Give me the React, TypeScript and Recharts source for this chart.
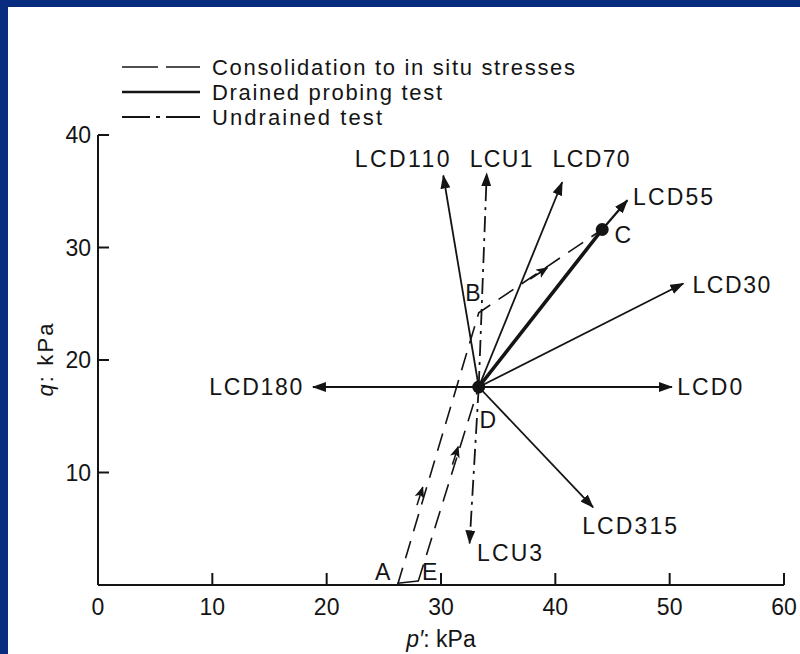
import React from 'react';
import { LineChart, Line, XAxis, YAxis, ReferenceDot, Legend } from 'recharts';

const INK = '#141414';
const FRAME = '#082c80';
const FONT = '"Liberation Sans", Arial, Helvetica, sans-serif';

const xTicks = [0, 10, 20, 30, 40, 50, 60];
const yTicks = [10, 20, 30, 40];

const pointD = { p: 33.3, q: 17.6 };
const pointC = { p: 44.1, q: 31.6 };

const drainedEnds = [
  { name: 'LCD0', p: 50.2, q: 17.6 },
  { name: 'LCD30', p: 51.2, q: 26.8 },
  { name: 'LCD70', p: 40.6, q: 35.8 },
  { name: 'LCD110', p: 30.2, q: 36.4 },
  { name: 'LCD180', p: 18.8, q: 17.6 },
  { name: 'LCD315', p: 43.3, q: 6.9 },
];
const lcd55Tip = { p: 46.3, q: 34.2 };
const undrainedEnds = [
  { name: 'LCU1', p: 34.0, q: 36.6 },
  { name: 'LCU3', p: 32.5, q: 3.7 },
];
const consolidationABC = [
  { p: 26.2, q: 0 },
  { p: 33.3, q: 24.2 },
  { p: 44.1, q: 31.6 },
];
const consolidationED = [
  { p: 28.0, q: 0.3 },
  { p: 33.3, q: 17.6 },
];
const baseAE = [
  { p: 26.2, q: 0.15 },
  { p: 28.0, q: 0.35 },
];
const midArrows = [
  [{ p: 27.9, q: 7.1 }, { p: 28.4, q: 8.7 }],
  [{ p: 31.0, q: 10.7 }, { p: 31.5, q: 12.3 }],
  [{ p: 37.8, q: 27.2 }, { p: 39.3, q: 28.2 }],
];

const annotations = [
  { text: 'LCD110', p: 26.6, q: 37.9, w: 95 },
  { text: 'LCU1', p: 35.26, q: 37.9, w: 63 },
  { text: 'LCD70', p: 43.13, q: 37.9, w: 77 },
  { text: 'LCD55', p: 50.3, q: 34.5, w: 80 },
  { text: 'C', p: 45.9, q: 31.1, w: 16 },
  { text: 'LCD30', p: 55.4, q: 26.7, w: 78 },
  { text: 'LCD0', p: 53.5, q: 17.6, w: 65 },
  { text: 'LCD180', p: 13.8, q: 17.6, w: 93 },
  { text: 'D', p: 34.1, q: 14.7, w: 15 },
  { text: 'B', p: 32.8, q: 26.0, w: 15 },
  { text: 'LCD315', p: 46.5, q: 5.3, w: 95 },
  { text: 'LCU3', p: 36.0, q: 2.9, w: 65 },
  { text: 'A', p: 24.9, q: 1.15, w: 15 },
  { text: 'E', p: 29.0, q: 1.15, w: 14 },
];

const legendItems = [
  { label: 'Consolidation to in situ stresses', dash: '36 8 34', sw: 1.6, w: 363 },
  { label: 'Drained probing test', dash: undefined, sw: 2.6, w: 230 },
  { label: 'Undrained test', dash: '28 6 4 6 34', sw: 2, w: 170 },
];

const XTick = (props: any) => {
  const { x, y, payload } = props;
  return (
    <g>
      {payload.value !== 0 && (
        <line x1={x} y1={y} x2={x} y2={y - 12} stroke={INK} strokeWidth={2} />
      )}
      <text x={x} y={y + 30} textAnchor="middle" fontSize={23} fill={INK} fontFamily={FONT}>
        {payload.value}
      </text>
    </g>
  );
};

const YTick = (props: any) => {
  const { x, y, payload } = props;
  return (
    <g>
      <line x1={x} y1={y} x2={x + 11} y2={y} stroke={INK} strokeWidth={2} />
      <text x={x - 7} y={y + 8} textAnchor="end" fontSize={23} fill={INK} fontFamily={FONT}>
        {payload.value}
      </text>
    </g>
  );
};

const makeLabel = (a: { text: string; w: number }) => (props: any) => {
  const vb = props.viewBox || {};
  const cx = vb.x + (vb.width || 0) / 2;
  const cy = vb.y + (vb.height || 0) / 2;
  return (
    <text
      x={cx}
      y={cy}
      dy="0.36em"
      textAnchor="middle"
      textLength={a.w}
      lengthAdjust="spacing"
      fontSize={23}
      fill={INK}
      fontFamily={FONT}
    >
      {a.text}
    </text>
  );
};

const renderLegend = () => (
  <svg width={480} height={90}>
    {legendItems.map((it, i) => {
      const y = 14 + i * 25;
      return (
        <g key={it.label}>
          <line
            x1={0}
            y1={y}
            x2={78}
            y2={y}
            stroke={INK}
            strokeWidth={it.sw}
            strokeDasharray={it.dash}
          />
          <text
            x={90}
            y={y + 8}
            fontSize={22}
            fill={INK}
            fontFamily={FONT}
            textLength={it.w}
            lengthAdjust="spacing"
          >
            {it.label}
          </text>
        </g>
      );
    })}
  </svg>
);

const lineCommon = {
  dataKey: 'q',
  type: 'linear' as const,
  dot: false,
  activeDot: false,
  isAnimationActive: false,
  legendType: 'none' as const,
};

export default function App() {
  return (
    <div style={{ position: 'absolute', left: 0, top: 0, width: 800, height: 654, background: FRAME }}>
      <div style={{ position: 'absolute', left: 8, top: 7, width: 792, height: 647, background: '#ffffff' }} />
      <svg width={0} height={0} style={{ position: 'absolute' }}>
        <defs>
          <marker
            id="arrowHead"
            viewBox="0 0 14 10"
            refX={13}
            refY={5}
            markerWidth={14}
            markerHeight={10}
            markerUnits="userSpaceOnUse"
            orient="auto"
          >
            <path d="M0,0 L14,5 L0,10 z" fill={INK} />
          </marker>
          <marker
            id="midHead"
            viewBox="0 0 12 10"
            refX={11}
            refY={5}
            markerWidth={12}
            markerHeight={10}
            markerUnits="userSpaceOnUse"
            orient="auto"
          >
            <path d="M0,0 L12,5 L0,10 L3,5 z" fill={INK} />
          </marker>
        </defs>
      </svg>
      <div style={{ position: 'absolute', left: 0, top: 0 }}>
        <LineChart width={800} height={654} margin={{ top: 135, right: 16, bottom: 29, left: 38 }}>
          <XAxis
            type="number"
            dataKey="p"
            domain={[0, 60]}
            ticks={xTicks}
            interval={0}
            allowDataOverflow
            height={40}
            tickSize={0}
            tickMargin={0}
            tickLine={false}
            axisLine={{ stroke: INK, strokeWidth: 2 }}
            tick={<XTick />}
            label={{
              content: (props: any) => {
                const vb = props.viewBox;
                return (
                  <text
                    x={vb.x + vb.width / 2}
                    y={vb.y + 62}
                    textAnchor="middle"
                    fontSize={23}
                    fill={INK}
                    fontFamily={FONT}
                  >
                    <tspan fontStyle="italic">p′</tspan>
                    <tspan>: kPa</tspan>
                  </text>
                );
              },
            }}
          />
          <YAxis
            type="number"
            domain={[0, 40]}
            ticks={yTicks}
            interval={0}
            allowDataOverflow
            width={60}
            tickSize={0}
            tickMargin={0}
            tickLine={false}
            axisLine={{ stroke: INK, strokeWidth: 2 }}
            tick={<YTick />}
            label={{
              content: (props: any) => {
                const vb = props.viewBox;
                const cx = vb.x + 7;
                const cy = vb.y + vb.height / 2;
                return (
                  <text
                    x={cx}
                    y={cy}
                    dy="0.36em"
                    textAnchor="middle"
                    fontSize={22}
                    fill={INK}
                    fontFamily={FONT}
                    textLength={73}
                    lengthAdjust="spacing"
                    transform={`rotate(-90 ${cx} ${cy})`}
                  >
                    <tspan fontStyle="italic">q</tspan>
                    <tspan>: kPa</tspan>
                  </text>
                );
              },
            }}
          />
          <Legend
            layout="vertical"
            align="center"
            verticalAlign="middle"
            content={renderLegend}
            wrapperStyle={{ left: 122, top: 53, width: 480, height: 90 }}
          />

          {/* consolidation (dashed) */}
          <Line {...lineCommon} data={consolidationABC} stroke={INK} strokeWidth={1.6} strokeDasharray="18 10" />
          <Line {...lineCommon} data={consolidationED} stroke={INK} strokeWidth={1.6} strokeDasharray="18 10" />
          <Line {...lineCommon} data={baseAE} stroke={INK} strokeWidth={1.6} />
          {midArrows.map((seg, i) => (
            <Line key={`m${i}`} {...lineCommon} data={seg} stroke={INK} strokeWidth={1.6} markerEnd="url(#midHead)" />
          ))}

          {/* drained probing tests */}
          {drainedEnds.map((e) => (
            <Line
              key={e.name}
              {...lineCommon}
              data={[pointD, { p: e.p, q: e.q }]}
              stroke={INK}
              strokeWidth={1.8}
              markerEnd="url(#arrowHead)"
            />
          ))}
          <Line {...lineCommon} data={[pointD, pointC]} stroke={INK} strokeWidth={3.6} />
          <Line {...lineCommon} data={[pointC, lcd55Tip]} stroke={INK} strokeWidth={2.2} markerEnd="url(#arrowHead)" />

          {/* undrained tests */}
          {undrainedEnds.map((e) => (
            <Line
              key={e.name}
              {...lineCommon}
              data={[pointD, { p: e.p, q: e.q }]}
              stroke={INK}
              strokeWidth={1.8}
              strokeDasharray="16 6 3 6"
              markerEnd="url(#arrowHead)"
            />
          ))}

          <ReferenceDot x={pointD.p} y={pointD.q} r={6.5} fill={INK} stroke="none" />
          <ReferenceDot x={pointC.p} y={pointC.q} r={6.5} fill={INK} stroke="none" />

          {annotations.map((a) => (
            <ReferenceDot
              key={a.text}
              x={a.p}
              y={a.q}
              r={1}
              fill="none"
              stroke="none"
              label={{ content: makeLabel(a) }}
            />
          ))}
        </LineChart>
      </div>
    </div>
  );
}
